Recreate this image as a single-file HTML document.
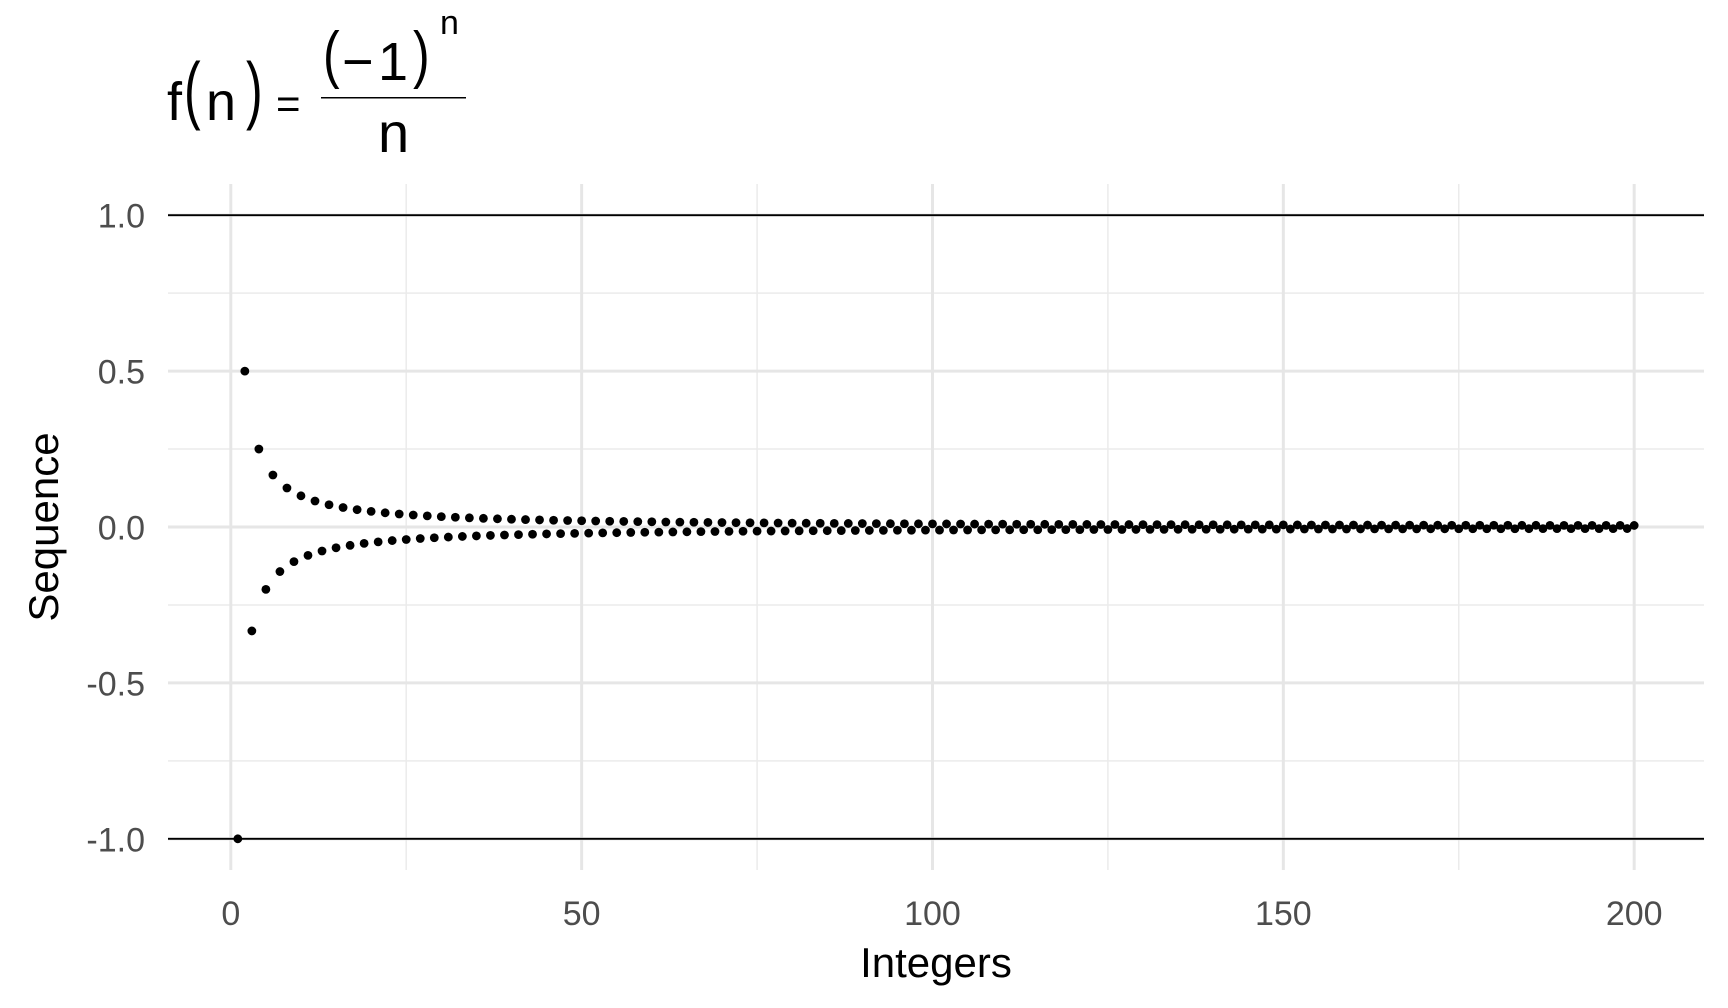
<!DOCTYPE html>
<html><head><meta charset="utf-8"><style>
html,body{margin:0;padding:0;background:#fff;}
svg{display:block;font-family:"Liberation Sans",Arial,sans-serif;}
</style></head><body>
<svg id="chart" width="1728" height="1008" viewBox="0 0 1728 1008">
  <g fill="#000">
    <text x="167" y="120" font-size="54">f</text>
    <text x="184" y="80" font-size="50" transform="translate(0,-5) scale(1,1.5)">(</text>
    <text x="206" y="120" font-size="54">n</text>
    <text x="246" y="80" font-size="50" transform="translate(0,-5) scale(1,1.5)">)</text>
    <text x="276" y="118" font-size="42">=</text>
    <text x="323" y="78" font-size="50" transform="translate(0,-23) scale(1,1.27)">(</text>
    <text x="342" y="80" font-size="54">−</text>
    <text x="378" y="80" font-size="54">1</text>
    <text x="413" y="78" font-size="50" transform="translate(0,-23) scale(1,1.27)">)</text>
    <text x="440" y="34" font-size="34">n</text>
    <rect x="321" y="97" width="145" height="1.5"/>
    <text x="378" y="152" font-size="56">n</text>
  </g>
  <g id="grid"></g>
  <g id="hlines"></g>
  <g id="points"></g>
  <g id="ylabels" font-size="34" fill="#4d4d4d" text-anchor="end"></g>
  <g id="xlabels" font-size="34" fill="#4d4d4d" text-anchor="middle"></g>
  <text x="936" y="977" font-size="42" text-anchor="middle" fill="#000">Integers</text>
  <text transform="translate(58,527) rotate(-90)" font-size="42" text-anchor="middle" fill="#000">Sequence</text>
</svg>
<script>
const yTicks = [1.0, 0.5, 0.0, -0.5, -1.0];
const yTickLabels = ["1.0", "0.5", "0.0", "-0.5", "-1.0"];
const yMinor = [0.75, 0.25, -0.25, -0.75];
const xTicks = [0, 50, 100, 150, 200];
const xTickLabels = ["0", "50", "100", "150", "200"];
const xMinor = [25, 75, 125, 175];
const refLines = [1, -1];
const sequenceValues = [
-1,0.5,-0.3333,0.25,-0.2,0.1667,-0.1429,0.125,-0.1111,0.1,
-0.0909,0.0833,-0.0769,0.0714,-0.0667,0.0625,-0.0588,0.0556,-0.0526,0.05,
-0.0476,0.0455,-0.0435,0.0417,-0.04,0.0385,-0.037,0.0357,-0.0345,0.0333,
-0.0323,0.0313,-0.0303,0.0294,-0.0286,0.0278,-0.027,0.0263,-0.0256,0.025,
-0.0244,0.0238,-0.0233,0.0227,-0.0222,0.0217,-0.0213,0.0208,-0.0204,0.02,
-0.0196,0.0192,-0.0189,0.0185,-0.0182,0.0179,-0.0175,0.0172,-0.0169,0.0167,
-0.0164,0.0161,-0.0159,0.0156,-0.0154,0.0152,-0.0149,0.0147,-0.0145,0.0143,
-0.0141,0.0139,-0.0137,0.0135,-0.0133,0.0132,-0.013,0.0128,-0.0127,0.0125,
-0.0123,0.0122,-0.012,0.0119,-0.0118,0.0116,-0.0115,0.0114,-0.0112,0.0111,
-0.011,0.0109,-0.0108,0.0106,-0.0105,0.0104,-0.0103,0.0102,-0.0101,0.01,
-0.0099,0.0098,-0.0097,0.0096,-0.0095,0.0094,-0.0093,0.0093,-0.0092,0.0091,
-0.009,0.0089,-0.0088,0.0088,-0.0087,0.0086,-0.0085,0.0085,-0.0084,0.0083,
-0.0083,0.0082,-0.0081,0.0081,-0.008,0.0079,-0.0079,0.0078,-0.0078,0.0077,
-0.0076,0.0076,-0.0075,0.0075,-0.0074,0.0074,-0.0073,0.0072,-0.0072,0.0071,
-0.0071,0.007,-0.007,0.0069,-0.0069,0.0068,-0.0068,0.0068,-0.0067,0.0067,
-0.0066,0.0066,-0.0065,0.0065,-0.0065,0.0064,-0.0064,0.0063,-0.0063,0.0063,
-0.0062,0.0062,-0.0061,0.0061,-0.0061,0.006,-0.006,0.006,-0.0059,0.0059,
-0.0058,0.0058,-0.0058,0.0057,-0.0057,0.0057,-0.0056,0.0056,-0.0056,0.0056,
-0.0055,0.0055,-0.0055,0.0054,-0.0054,0.0054,-0.0053,0.0053,-0.0053,0.0053,
-0.0052,0.0052,-0.0052,0.0052,-0.0051,0.0051,-0.0051,0.0051,-0.005,0.005
];

const NS = "http://www.w3.org/2000/svg";
const PX0 = 168, PX1 = 1704, PY0 = 184, PY1 = 870;
const xMin = -8.95, xMax = 209.95, yMin = -1.1, yMax = 1.1;
function xScale(v){ return PX0 + (v - xMin) / (xMax - xMin) * (PX1 - PX0); }
function yScale(v){ return PY1 - (v - yMin) / (yMax - yMin) * (PY1 - PY0); }
function mk(tag, attrs, parent){
  const e = document.createElementNS(NS, tag);
  for (const k in attrs) e.setAttribute(k, attrs[k]);
  parent.appendChild(e);
  return e;
}
const grid = document.getElementById("grid");
yMinor.forEach(v => {
  const l = mk("line", {x1:PX0, x2:PX1, y1:yScale(v), y2:yScale(v), stroke:"#ebebeb", "stroke-width":1.5}, grid);
  
  
});
xMinor.forEach(v => {
  const l = mk("line", {x1:xScale(v), x2:xScale(v), y1:PY0, y2:PY1, stroke:"#ebebeb", "stroke-width":1.5}, grid);
  
  
});
yTicks.forEach(v => {
  const l = mk("line", {x1:PX0, x2:PX1, y1:yScale(v), y2:yScale(v), stroke:"#e6e6e6", "stroke-width":3}, grid);
  
  
});
xTicks.forEach(v => {
  const l = mk("line", {x1:xScale(v), x2:xScale(v), y1:PY0, y2:PY1, stroke:"#e6e6e6", "stroke-width":3}, grid);
  
  
});
const hl = document.getElementById("hlines");
refLines.forEach(v => {
  const l = mk("line", {x1:PX0, x2:PX1, y1:yScale(v), y2:yScale(v), stroke:"#000", "stroke-width":1.9}, hl);
  
  
});
const pts = document.getElementById("points");
sequenceValues.forEach((v, i) => {
  const c = mk("circle", {cx:xScale(i + 1), cy:yScale(v), r:4.4, fill:"#000"}, pts);
  
  
});
const yl = document.getElementById("ylabels");
yTicks.forEach((v, i) => {
  const t = mk("text", {x:145, y:yScale(v) + 12.5}, yl);
  t.textContent = yTickLabels[i];
  
  
});
const xl = document.getElementById("xlabels");
xTicks.forEach((v, i) => {
  const t = mk("text", {x:xScale(v), y:925}, xl);
  t.textContent = xTickLabels[i];
  
  
});
</script>
</body></html>
